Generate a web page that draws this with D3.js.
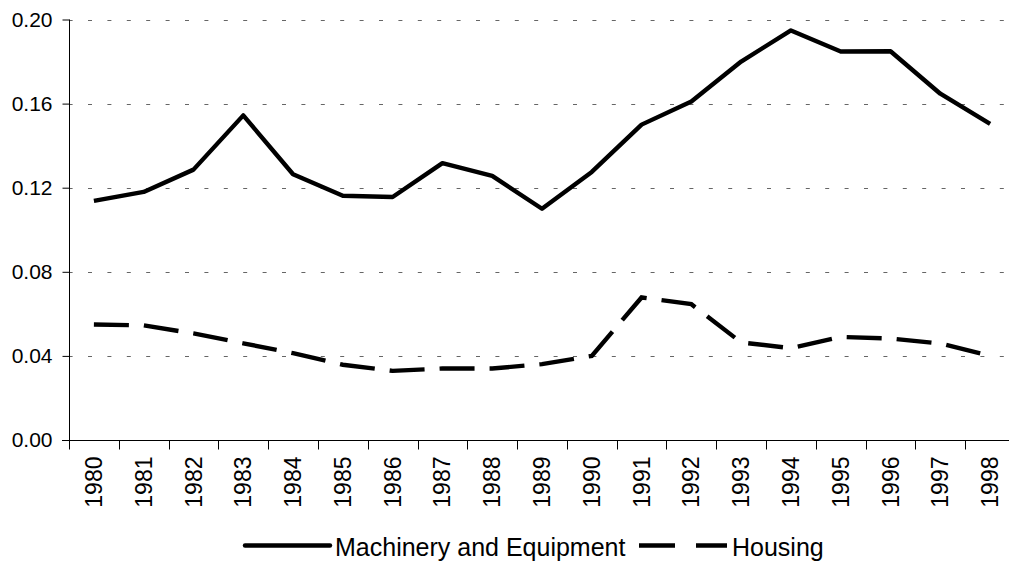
<!DOCTYPE html>
<html>
<head>
<meta charset="utf-8">
<script src="https://cdn.jsdelivr.net/npm/d3@7"></script>
<style>
  html, body { margin: 0; padding: 0; background: #fff; }
  svg { display: block; font-family: "Liberation Sans", Arial, sans-serif; }
</style>
</head>
<body>
<svg id="chart" width="1009" height="564"></svg>
<script>
const years = ["1980","1981","1982","1983","1984","1985","1986","1987","1988","1989",
               "1990","1991","1992","1993","1994","1995","1996","1997","1998"];
const machinery = [0.1137, 0.118, 0.1286, 0.1544, 0.1264, 0.1162, 0.1156, 0.1317, 0.1256, 0.110,
                   0.1275, 0.150, 0.161, 0.180, 0.1948, 0.1848, 0.1849, 0.1647, 0.1504];
const housing = [0.0549, 0.0545, 0.0507, 0.046, 0.0413, 0.0358, 0.0329, 0.034, 0.034, 0.0361,
                 0.040, 0.0678, 0.0646, 0.0464, 0.0437, 0.049, 0.0483, 0.0459, 0.040];
const yTicks = [0, 0.04, 0.08, 0.12, 0.16, 0.20];
const seriesNames = ["Machinery and Equipment", "Housing"];

(function () {
const svg = d3.select("#chart");
const pLeft = 69, pRight = 1015, pTop = 19.5, pBottom = 440;

const x = d3.scaleBand().domain(years).range([pLeft, pRight]);
const y = d3.scaleLinear().domain([0, 0.2]).range([pBottom, pTop]);

// gridlines
svg.append("g").selectAll("line").data(yTicks.filter(d => d > 0)).join("line")
  .attr("x1", pLeft).attr("x2", 1009)
  .attr("y1", d => Math.round(y(d)) + 0.5).attr("y2", d => Math.round(y(d)) + 0.5)
  .attr("stroke", "#666").attr("stroke-width", 1)
  .attr("stroke-dasharray", "4,15.4").attr("stroke-dashoffset", 0.4);

// y axis
const yAxis = d3.axisLeft(y).tickValues(yTicks).tickFormat(d3.format(".2f")).tickSize(7).tickPadding(10);
const gy = svg.append("g").attr("transform", `translate(${pLeft + 0.5},0)`).call(yAxis);
gy.select(".domain").attr("stroke", "#000").attr("d", `M0,${pTop}V${pBottom}`);
gy.selectAll(".tick line").attr("stroke", "#000");
gy.selectAll(".tick text").attr("font-size", 21).attr("fill", "#000")
  .attr("font-family", "Liberation Sans, Arial, sans-serif");

// x axis
const xAxis = d3.axisBottom(x).tickSize(0).tickFormat(d => d);
const gx = svg.append("g").attr("transform", `translate(0,${pBottom + 0.5})`).call(xAxis);
gx.select(".domain").attr("stroke", "#000").attr("d", `M${pLeft - 7},0H${1009}`);
gx.selectAll(".tick text")
  .attr("font-size", 23).attr("fill", "#000")
  .attr("font-family", "Liberation Sans, Arial, sans-serif")
  .attr("transform", "rotate(-90)")
  .attr("text-anchor", "end")
  .attr("x", -16).attr("y", 0).attr("dy", "0.35em");
// boundary ticks between categories
const bounds = years.map(d => x(d)).concat([pRight]);
gx.append("g").selectAll("line").data(bounds).join("line")
  .attr("x1", d => Math.round(d) + 0.5).attr("x2", d => Math.round(d) + 0.5)
  .attr("y1", 0).attr("y2", 9).attr("stroke", "#000");

// lines
const line = d3.line().x((d, i) => x(years[i]) + x.bandwidth() / 2).y(d => y(d));
svg.append("path").datum(machinery).attr("d", line)
  .attr("fill", "none").attr("stroke", "#000").attr("stroke-width", 4.4)
  .attr("stroke-linejoin", "round");
svg.append("path").datum(housing).attr("d", line)
  .attr("fill", "none").attr("stroke", "#000").attr("stroke-width", 4.4)
  .attr("stroke-dasharray", "35,15").attr("stroke-linecap", "butt");

// legend
const legendItems = [
  { name: seriesNames[0], x1: 245, x2: 330, dash: null },
  { name: seriesNames[1], x1: 639, x2: 727, dash: "36,21" }
];
const lg = svg.append("g");
legendItems.forEach(it => {
  lg.append("line").attr("x1", it.x1).attr("x2", it.x2).attr("y1", 545.5).attr("y2", 545.5)
    .attr("stroke", "#000").attr("stroke-width", 4.4)
    .attr("stroke-dasharray", it.dash).attr("stroke-linecap", it.dash ? "butt" : "round");
  lg.append("text").attr("x", it.x2 + 5).attr("y", 555.5)
    .attr("font-size", 25).attr("fill", "#000").text(it.name);
});
})();
</script>
</body>
</html>
